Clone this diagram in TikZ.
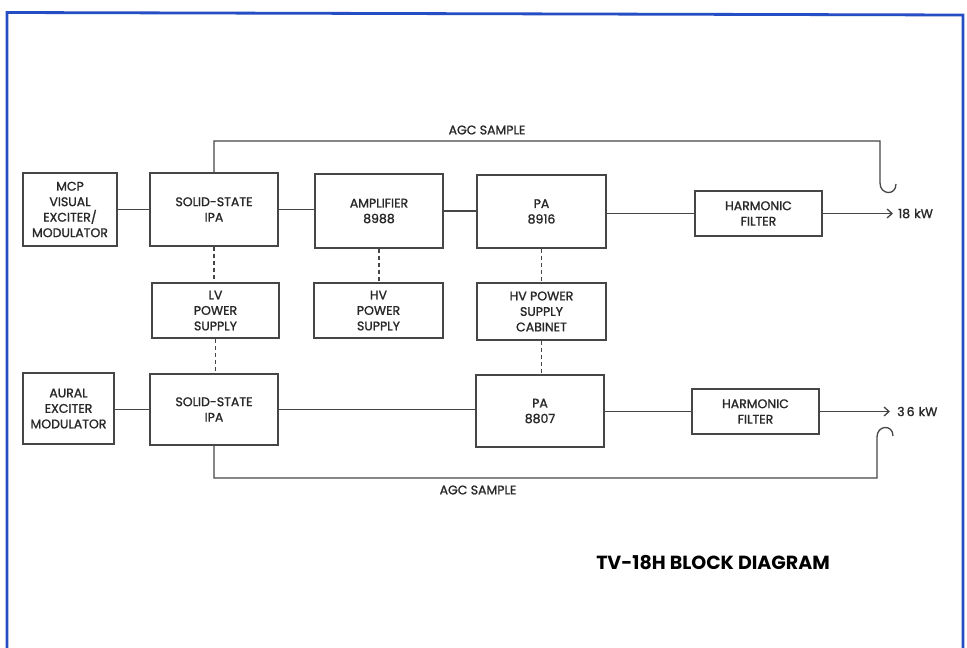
\documentclass[tikz,border=0pt]{standalone}
\usepackage{fontspec}
\setmainfont{Poppins}
\newfontfamily\medfont{Poppins}[FakeBold=1.3]
\usetikzlibrary{arrows.meta}
\definecolor{frameblue}{RGB}{38,78,196}
\definecolor{ink}{RGB}{70,70,70}
\definecolor{txt}{RGB}{40,40,40}
\tikzset{
  blk/.style={draw=ink, line width=1.3pt, rectangle, align=center, text=txt,
    font=\medfont\fontsize{12.5}{15.5}\selectfont, inner sep=1pt},
  wire/.style={draw=ink, line width=1.3pt},
  dashwire/.style={draw=ink, line width=1.1pt, dash pattern=on 4pt off 3pt},
  lbl/.style={text=txt, font=\medfont\fontsize{12.5}{14}\selectfont, inner sep=1pt},
  title/.style={text=black, font=\fontsize{19}{21}\bfseries\selectfont, inner sep=0pt}
}
\begin{document}
\begin{tikzpicture}[x=1pt,y=-1pt]
\useasboundingbox (0,0) rectangle (967,648);
\fill[white] (0,0) rectangle (967,648);
% frame
\draw[frameblue, line width=2.8pt] (7,648) -- (7,12.5) -- (963,15) -- (963,648);

% top row
\node[blk, minimum width=94pt, minimum height=73pt] (mcp) at (70,209.5) {MCP\\VISUAL\\EXCITER/\\MODULATOR};
\node[blk, minimum width=128pt, minimum height=73pt] (ipa1) at (214,209.5) {SOLID-STATE\\IPA};
\node[blk, minimum width=128pt, minimum height=74pt] (amp) at (379,211) {AMPLIFIER\\8988};
\node[blk, minimum width=129pt, minimum height=73pt] (pa1) at (541.5,211.5) {PA\\8916};
\node[blk, minimum width=127pt, minimum height=45pt] (hf1) at (758.5,213.5) {HARMONIC\\FILTER};

% power supplies
\node[blk, minimum width=127pt, minimum height=55pt] (lv) at (215.5,310.5) {LV\\POWER\\SUPPLY};
\node[blk, minimum width=129pt, minimum height=55pt] (hv) at (378.5,310.5) {HV\\POWER\\SUPPLY};
\node[blk, minimum width=129pt, minimum height=57pt] (hvc) at (541.5,311.5) {HV POWER\\SUPPLY\\CABINET};

% bottom row
\node[blk, minimum width=91pt, minimum height=71pt] (aur) at (68.5,408.5) {AURAL\\EXCITER\\MODULATOR};
\node[blk, minimum width=128pt, minimum height=71pt] (ipa2) at (214,409.5) {SOLID-STATE\\IPA};
\node[blk, minimum width=128pt, minimum height=72pt] (pa2) at (540,411) {PA\\8807};
\node[blk, minimum width=127pt, minimum height=45pt] (hf2) at (755.5,411.5) {HARMONIC\\FILTER};

% output coordinates
\coordinate (o1) at (893,213.5);
\coordinate (o2) at (890,411.5);
\node[lbl, anchor=west] (p1) at (897,213.5) {18\,\,kW};
\node[lbl, anchor=west] (p2) at (896,411.5) {3\,6\,\,kW};

% horizontal signal path
\draw[wire] (mcp.east) -- (ipa1.west);
\draw[wire] (ipa1.east) -- (ipa1.east -| amp.west);
\draw[wire] (amp.east) -- (amp.east -| pa1.west);
\draw[wire] (pa1.east |- hf1.west) -- (hf1.west);
\draw[wire, -{Straight Barb[length=5pt,width=9pt]}] (hf1.east) -- (o1);

\draw[wire] (aur.east |- ipa2.west) -- (ipa2.west);
\draw[wire] (ipa2.east) -- (ipa2.east -| pa2.west);
\draw[wire] (pa2.east |- hf2.west) -- (hf2.west);
\draw[wire, -{Straight Barb[length=5pt,width=9pt]}] (hf2.east) -- (o2);

% dashed supply lines
\draw[dashwire] (ipa1.south) -- (ipa1.south |- lv.north);
\draw[dashwire] (lv.south) -- (lv.south |- ipa2.north);
\draw[dashwire] (amp.south) -- (amp.south |- hv.north);
\draw[dashwire] (pa1.south) -- (pa1.south |- hvc.north);
\draw[dashwire] (hvc.south) -- (hvc.south |- pa2.north);

% AGC sample loops
\coordinate (a1) at (880,141);
\coordinate (a1h) at (880,183);
\coordinate (a1e) at (896,184);
\draw[wire] (ipa1.north) |- (a1) -- (a1h) .. controls (880,195) and (896,196) .. (a1e);
\node[lbl] (agc1) at (487,130) {AGC SAMPLE};

\coordinate (a2) at (877,478);
\coordinate (a2h) at (877,437);
\coordinate (a2e) at (893,436);
\draw[wire] (ipa2.south) |- (a2) -- (a2h) .. controls (877,425) and (893,424) .. (a2e);
\node[lbl] (agc2) at (478,490) {AGC SAMPLE};

% title
\node[title] (ttl) at (713,563) {TV-18H BLOCK DIAGRAM};
\end{tikzpicture}
\end{document}
